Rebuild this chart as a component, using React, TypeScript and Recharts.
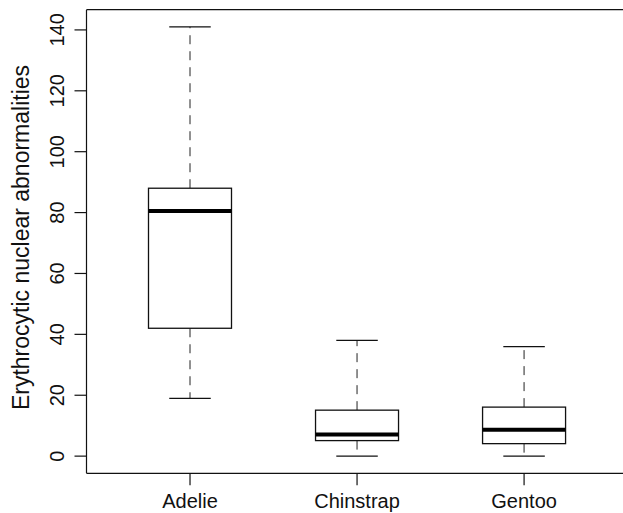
import React from 'react';
import { ComposedChart, Bar, XAxis, YAxis, ReferenceLine } from 'recharts';

const species = ['Adelie', 'Chinstrap', 'Gentoo'];
const mins = [19, 0, 0];
const q1s = [42, 5.1, 4.1];
const medians = [80.5, 7.1, 8.7];
const q3s = [88, 15.1, 16.1];
const maxs = [141, 38, 36];

const yTicks = [0, 20, 40, 60, 80, 100, 120, 140];
const yMin = -5.64;
const yMax = 146.64;

const data = species.map((name, i) => ({
  name,
  min: mins[i],
  q1: q1s[i],
  median: medians[i],
  q3: q3s[i],
  max: maxs[i],
}));

const FONT = '"Liberation Sans", Arial, Helvetica, sans-serif';

// draws the whole box from the range bar [min, max] the library places
const BoxShape = (props: any) => {
  const { x, y, width, height, payload } = props;
  const top = Math.min(y, y + height);
  const h = Math.abs(height);
  const k = h / (payload.max - payload.min);
  const yOf = (v: number) => top + (payload.max - v) * k;
  const cx = x + width / 2;
  const cap = width / 4;
  return (
    <g>
      <line x1={cx} x2={cx} y1={yOf(payload.q3)} y2={yOf(payload.max)} stroke="#222" strokeDasharray="9 7" />
      <line x1={cx} x2={cx} y1={yOf(payload.q1)} y2={yOf(payload.min)} stroke="#222" strokeDasharray="9 7" />
      <line x1={cx - cap} x2={cx + cap} y1={yOf(payload.max)} y2={yOf(payload.max)} stroke="#111" strokeWidth={1.2} />
      <line x1={cx - cap} x2={cx + cap} y1={yOf(payload.min)} y2={yOf(payload.min)} stroke="#111" strokeWidth={1.2} />
      <rect x={x} y={yOf(payload.q3)} width={width} height={yOf(payload.q1) - yOf(payload.q3)} fill="#fff" stroke="#111" strokeWidth={1.3} />
      <line x1={x} x2={x + width} y1={yOf(payload.median)} y2={yOf(payload.median)} stroke="#000" strokeWidth={4} />
    </g>
  );
};

const YTick = (props: any) => {
  const { y, payload } = props;
  return (
    <text x={64} y={y} transform={`rotate(-90, 64, ${y})`} textAnchor="middle" fontSize={20} fill="#111" fontFamily={FONT}>
      {payload.value}
    </text>
  );
};

const XTick = (props: any) => {
  const { x, payload } = props;
  return (
    <text x={x} y={507.5} textAnchor="middle" fontSize={20} fill="#111" fontFamily={FONT}>
      {payload.value}
    </text>
  );
};

const YTitle = (props: any) => {
  const vb = props.viewBox || {};
  const cy = (vb.y ?? 9.7) + (vb.height ?? 463.6) / 2 - 4;
  return (
    <text x={21} y={cy} transform={`rotate(-90, 21, ${cy})`} textAnchor="middle" dominantBaseline="central" fontSize={23} fill="#111" fontFamily={FONT}>
      Erythrocytic nuclear abnormalities
    </text>
  );
};

export default function App() {
  return (
    <div style={{ position: 'absolute', left: 0, top: 0, width: 623, height: 513, overflow: 'hidden', background: '#fff' }}>
      <ComposedChart width={623} height={513} data={data} margin={{ top: 9.7, right: -4.6, bottom: 0, left: 0 }}>
        <XAxis
          dataKey="name"
          type="category"
          padding={{ left: 20, right: 20 }}
          height={39.7}
          axisLine={{ stroke: '#111', strokeWidth: 1.2 }}
          tickLine={{ stroke: '#111', strokeWidth: 1.2 }}
          tickSize={12}
          tick={<XTick />}
          interval={0}
        />
        <YAxis
          type="number"
          domain={[yMin, yMax]}
          ticks={yTicks}
          allowDataOverflow
          width={86.5}
          axisLine={{ stroke: '#111', strokeWidth: 1.2 }}
          tickLine={{ stroke: '#111', strokeWidth: 1.2 }}
          tickSize={12}
          tick={<YTick />}
          label={<YTitle />}
        />
        <ReferenceLine y={yMax} stroke="#111" strokeWidth={1.2} />
        <Bar dataKey={(d: any) => [d.min, d.max]} barSize={83} shape={<BoxShape />} isAnimationActive={false} />
      </ComposedChart>
    </div>
  );
}
